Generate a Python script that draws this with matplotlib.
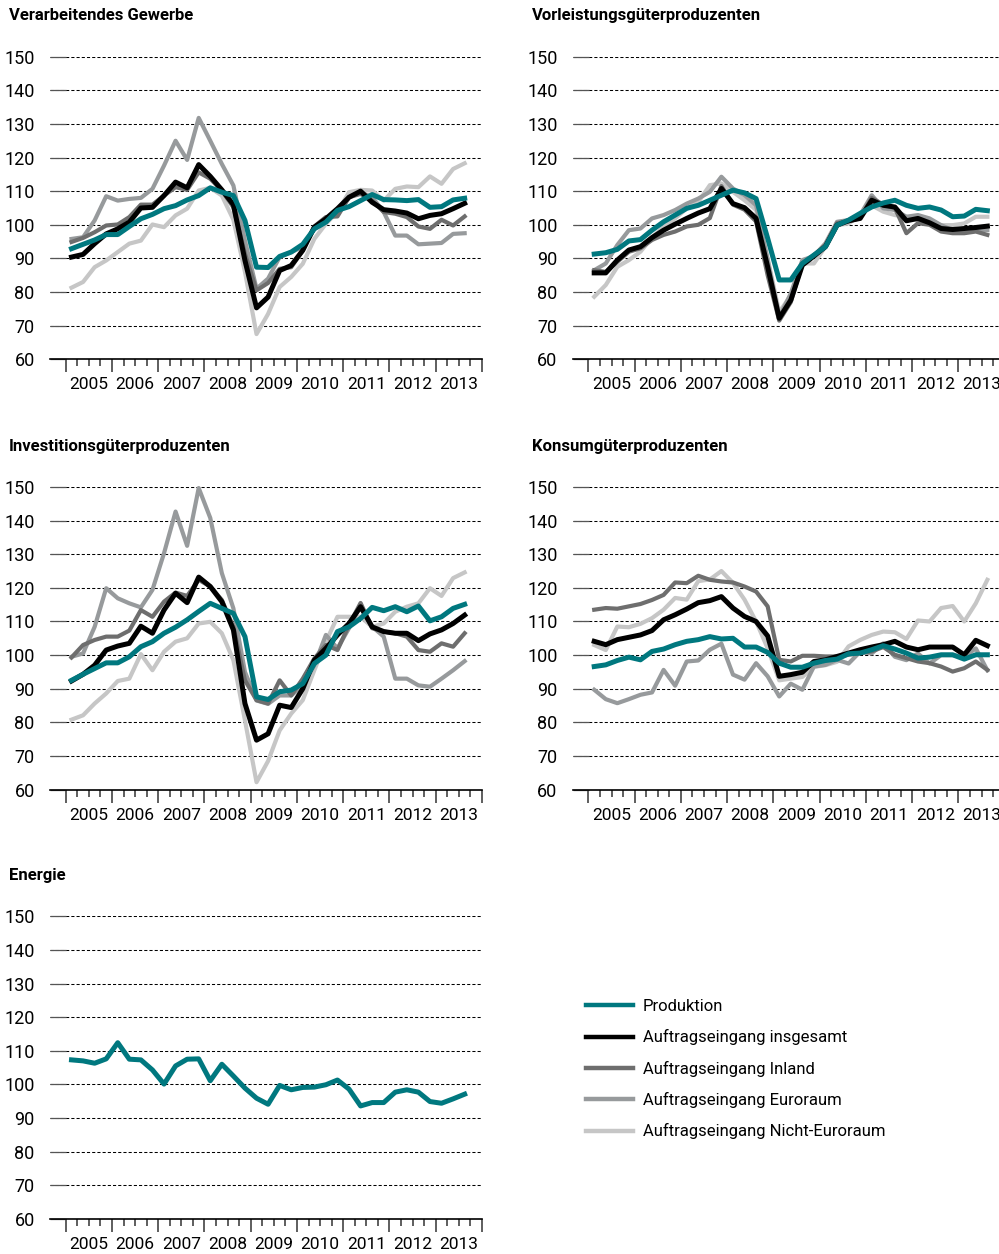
import numpy as np
import matplotlib
matplotlib.use('Agg')
from matplotlib import pyplot as plt

plt.rcParams['font.family'] = ['Roboto', 'DejaVu Sans']

# quarterly values 2005Q1 .. 2013Q3
quarters = np.arange(35)
x = 2005 + (quarters + 0.5) / 4
years = list(range(2005, 2014))

# Verarbeitendes Gewerbe
vg_prod = [92.9, 94.2, 95.5, 97.1, 97.1, 99.5, 101.8, 103.1, 104.8, 105.7, 107.4, 108.7, 111.0, 109.7, 108.7, 101.3, 87.4, 87.3,
           90.6, 91.9, 94.2, 98.8, 100.8, 104.3, 105.4, 107.2, 109.0, 107.5, 107.4, 107.2, 107.5, 105.2, 105.4, 107.4, 107.9]
vg_total = [90.4, 91.2, 94.4, 97.3, 98.8, 100.8, 105.0, 105.2, 108.7, 112.7, 111.0, 117.9, 114.4, 110.4, 106.0, 89.4, 75.3, 78.5,
            86.4, 87.9, 92.4, 99.3, 101.8, 104.8, 108.2, 110.0, 106.7, 104.5, 104.1, 103.5, 101.8, 102.8, 103.3, 104.8, 106.4]
vg_inland = [94.9, 96.1, 97.8, 99.8, 100.1, 102.3, 106.0, 106.0, 108.7, 111.2, 110.4, 115.6, 113.7, 110.2, 105.2, 91.4, 80.5, 82.7,
             86.9, 87.4, 92.4, 99.5, 102.3, 102.5, 108.2, 109.2, 107.2, 103.8, 103.3, 102.3, 99.5, 98.8, 101.5, 99.8, 102.5]
vg_euro = [95.8, 96.3, 101.3, 108.5, 107.2, 107.7, 108.0, 110.7, 117.6, 125.0, 119.3, 131.8, 125.0, 118.1, 111.7, 95.3, 81.0, 84.0,
           90.4, 91.9, 93.4, 98.8, 101.8, 103.3, 108.2, 109.7, 108.2, 103.8, 96.8, 96.8, 94.2, 94.4, 94.6, 97.3, 97.5]
vg_noneuro = [81.3, 83.0, 87.4, 89.4, 91.9, 94.4, 95.3, 100.1, 99.3, 102.8, 104.8, 110.2, 111.0, 108.7, 101.5, 86.0, 67.5, 73.5,
              81.5, 84.5, 88.4, 95.8, 100.3, 103.8, 109.7, 110.4, 110.2, 107.2, 110.7, 111.4, 111.2, 114.4, 112.2, 116.6, 118.3]

# Vorleistungsgüterproduzenten
vl_prod = [91.3, 91.7, 92.7, 95.2, 95.6, 98.4, 100.9, 102.9, 104.9, 105.8, 107.3, 108.8, 110.3, 109.5, 107.8, 96.0, 83.6, 83.6,
           88.5, 91.0, 93.5, 99.9, 101.4, 103.4, 105.3, 106.5, 107.3, 105.8, 104.9, 105.3, 104.4, 102.4, 102.6, 104.6, 104.2]
vl_total = [85.7, 85.7, 89.5, 92.5, 93.5, 96.2, 98.4, 100.2, 101.9, 103.5, 104.8, 110.8, 106.3, 105.1, 101.9, 87.5, 72.2, 77.6,
            88.0, 90.7, 93.5, 99.9, 101.2, 101.9, 107.3, 105.8, 105.3, 101.2, 101.9, 100.6, 98.9, 98.6, 98.9, 99.2, 99.6]
vl_inland = [86.5, 86.0, 89.0, 92.0, 93.0, 95.5, 97.0, 98.0, 99.5, 100.0, 102.0, 111.5, 106.0, 104.5, 101.0, 85.0, 71.5, 77.0,
             88.5, 91.0, 94.0, 100.5, 101.0, 102.0, 108.0, 106.0, 105.0, 97.5, 100.5, 100.0, 98.0, 97.5, 97.5, 98.0, 97.0]
vl_euro = [86.5, 88.5, 94.0, 98.4, 98.9, 101.9, 102.9, 104.4, 106.3, 107.8, 109.8, 114.3, 110.8, 108.8, 105.8, 89.5, 72.5, 79.6,
           89.5, 90.7, 94.5, 100.9, 101.4, 102.9, 108.8, 104.9, 104.4, 102.4, 102.9, 101.9, 99.9, 98.4, 97.9, 98.4, 98.4]
vl_noneuro = [78.6, 82.1, 87.5, 89.5, 92.0, 96.2, 99.4, 101.9, 104.9, 106.8, 111.8, 112.3, 109.8, 107.3, 104.4, 90.0, 74.0, 79.0,
              88.5, 88.5, 93.5, 99.9, 100.4, 102.9, 105.8, 103.9, 102.9, 102.4, 101.4, 100.4, 99.9, 99.9, 100.4, 102.4, 102.4]

# Investitionsgüterproduzenten
ig_prod = [92.5, 94.3, 96.0, 97.7, 97.7, 99.5, 102.5, 104.0, 106.5, 108.3, 110.5, 113.0, 115.4, 113.9, 112.4, 105.5, 87.6, 86.8,
           89.1, 89.6, 91.5, 97.5, 100.0, 107.0, 108.4, 110.9, 114.2, 113.2, 114.4, 112.9, 114.6, 110.2, 111.4, 113.9, 115.1]
ig_total = [92.3, 94.3, 97.0, 101.5, 102.7, 103.5, 108.6, 106.5, 113.4, 118.4, 115.6, 123.2, 120.4, 115.9, 107.5, 85.6, 74.7, 76.6,
            85.1, 84.4, 90.0, 98.5, 102.0, 106.0, 109.4, 114.4, 108.4, 107.0, 106.5, 106.5, 104.3, 106.3, 107.5, 109.4, 111.9]
ig_inland = [99.3, 103.0, 104.5, 105.5, 105.5, 107.3, 113.4, 111.4, 115.9, 118.6, 117.6, 122.4, 120.4, 116.4, 108.4, 92.5, 86.6, 85.6,
             92.5, 88.0, 93.0, 99.0, 103.0, 101.5, 109.0, 115.5, 108.0, 107.0, 106.5, 105.5, 101.5, 101.0, 103.5, 102.5, 106.5]
ig_euro = [99.5, 100.5, 108.4, 119.9, 116.9, 115.4, 114.2, 119.4, 130.3, 142.7, 132.5, 149.7, 140.8, 124.4, 113.9, 95.0, 86.5, 85.5,
           88.0, 88.0, 91.0, 97.0, 106.0, 102.0, 108.0, 115.0, 108.5, 105.5, 93.0, 93.0, 91.0, 90.6, 93.0, 95.5, 98.2]
ig_noneuro = [80.8, 82.1, 85.6, 88.6, 92.3, 93.0, 100.3, 95.5, 101.0, 104.0, 105.0, 109.4, 109.9, 106.5, 98.5, 80.6, 62.2, 68.5,
              77.6, 82.6, 86.6, 95.5, 104.0, 111.4, 111.4, 111.4, 108.4, 109.4, 112.9, 114.4, 115.4, 119.9, 117.6, 122.9, 124.6]

# Konsumgüterproduzenten
kg_prod = [96.6, 97.1, 98.4, 99.4, 98.6, 101.1, 101.8, 103.1, 104.1, 104.6, 105.5, 104.8, 105.0, 102.4, 102.4, 100.8, 97.6, 96.4,
           96.4, 97.6, 98.4, 98.8, 100.4, 100.6, 101.6, 102.8, 101.8, 100.6, 99.1, 99.4, 100.1, 100.1, 98.8, 100.1, 100.1]
kg_total = [104.1, 103.1, 104.6, 105.3, 106.0, 107.3, 110.5, 112.0, 113.7, 115.6, 116.2, 117.4, 114.0, 111.5, 110.0, 105.7, 93.7, 94.2,
            94.9, 98.1, 98.6, 99.6, 100.6, 101.6, 102.4, 103.1, 104.1, 102.4, 101.6, 102.4, 102.4, 102.4, 100.1, 104.4, 102.8]
kg_inland = [113.5, 114.0, 113.8, 114.5, 115.2, 116.4, 117.9, 121.6, 121.4, 123.6, 122.4, 121.9, 121.6, 120.4, 118.9, 114.5, 98.6, 98.1,
             99.8, 99.8, 99.6, 99.6, 100.1, 100.6, 101.1, 102.4, 100.1, 99.1, 98.1, 97.6, 96.6, 95.1, 96.1, 98.1, 95.6]
kg_euro = [89.7, 86.9, 85.7, 86.9, 88.2, 88.9, 95.6, 90.9, 98.1, 98.4, 101.6, 103.4, 94.2, 92.7, 97.6, 93.7, 87.7, 91.5,
           89.7, 96.6, 97.1, 98.6, 97.5, 101.0, 100.5, 103.5, 99.5, 98.5, 100.5, 97.5, 100.0, 100.0, 99.5, 102.0, 95.5]
kg_noneuro = [103.0, 101.5, 108.5, 108.3, 109.3, 111.0, 113.5, 117.0, 116.5, 122.0, 122.5, 125.0, 121.5, 116.5, 110.0, 102.0, 92.5, 93.0,
              93.5, 96.5, 97.0, 98.0, 102.6, 104.5, 106.0, 107.0, 106.8, 104.8, 110.3, 110.0, 114.0, 114.6, 110.0, 115.4, 122.4]

# Energie
en_prod = [107.3, 107.0, 106.3, 107.6, 112.4, 107.5, 107.3, 104.3, 100.1, 105.5, 107.5, 107.6, 101.1, 106.0, 102.5, 98.9, 95.9, 94.1,
           99.7, 98.4, 99.1, 99.2, 99.9, 101.3, 98.6, 93.6, 94.6, 94.6, 97.7, 98.4, 97.7, 94.9, 94.4, 95.7, 97.1]

names = ['Produktion', 'Auftragseingang insgesamt', 'Auftragseingang Inland',
         'Auftragseingang Euroraum', 'Auftragseingang Nicht-Euroraum']
colors = ['#00787f', '#000000', '#6e6e6e', '#979a9c', '#c6c6c6']
widths = [3.6, 3.6, 3.0, 3.0, 3.0]

W, H = 999, 1254
fig = plt.figure(figsize=(W / 100, H / 100), dpi=100)


def panel(left, top, title, series):
    ax = fig.add_axes([left / W, 1 - (top + 302.6) / H, 432 / W, 302.6 / H])
    ax.set_xlim(2004.66, 2014)
    ax.set_ylim(60, 150)
    ax.set_axisbelow(True)
    for s in ['top', 'right', 'left']:
        ax.spines[s].set_visible(False)
    ax.spines['bottom'].set_linewidth(1.2)

    ax.set_yticks(range(60, 151, 10))
    ax.tick_params(axis='y', direction='in', length=11.5, width=0.9, color='#555555', pad=11, labelsize=13)
    ax.grid(axis='y', color='black', lw=0.75, linestyle=(0, (3, 2)))

    ax.set_xticks(range(2005, 2015))
    ax.set_xticks(np.arange(2005, 2014, 0.25), minor=True)
    ax.set_xticklabels([])
    ax.tick_params(axis='x', which='major', length=9.5, width=1.1, color='#333333')
    ax.tick_params(axis='x', which='minor', length=5, width=1.1, color='#333333')
    for yr in years:
        ax.text(yr + 0.5, -0.06, str(yr), transform=ax.get_xaxis_transform(),
                ha='center', va='top', fontsize=12.5)

    lines = []
    for k in reversed(range(len(series))):
        l, = ax.plot(x, series[k], color=colors[k], lw=widths[k], clip_on=False)
        lines.append(l)
    fig.text((left - 41) / W, 1 - (top - 41) / H, title, fontweight='bold', fontsize=12, va='center')
    return lines[::-1]


handles = panel(50, 56.7, 'Verarbeitendes Gewerbe', [vg_prod, vg_total, vg_inland, vg_euro, vg_noneuro])
panel(572.7, 56.7, 'Vorleistungsgüterproduzenten', [vl_prod, vl_total, vl_inland, vl_euro, vl_noneuro])
panel(50, 487, 'Investitionsgüterproduzenten', [ig_prod, ig_total, ig_inland, ig_euro, ig_noneuro])
panel(572.7, 487, 'Konsumgüterproduzenten', [kg_prod, kg_total, kg_inland, kg_euro, kg_noneuro])
panel(50, 916.3, 'Energie', [en_prod])

leg = fig.legend(handles, names, loc='upper left', bbox_to_anchor=(586 / W, 1 - 999 / H),
                 frameon=False, fontsize=12, handlelength=2.8, handletextpad=0.6,
                 labelspacing=0.92, borderpad=0, borderaxespad=0)
for h in leg.get_lines():
    h.set_linewidth(3.2)

fig.savefig('out.png', dpi=100)
